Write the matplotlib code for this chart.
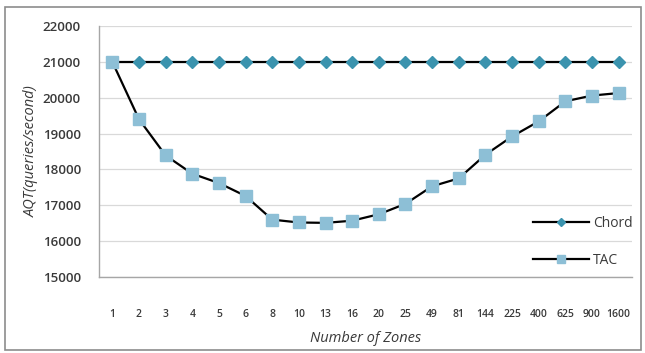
import matplotlib
matplotlib.use("Agg")
import matplotlib.pyplot as plt
import matplotlib.patches as mpatches

# x categories (number of zones) and AQT values
zones = ["1", "2", "3", "4", "5", "6", "8", "10", "13", "16", "20", "25",
         "49", "81", "144", "225", "400", "625", "900", "1600"]
chord = [21000] * len(zones)
tac = [21000, 19400, 18390, 17880, 17620, 17260, 16600, 16520, 16510,
       16570, 16750, 17040, 17530, 17750, 18410, 18920, 19340, 19900,
       20060, 20130]

yticks = [15000, 16000, 17000, 18000, 19000, 20000, 21000, 22000]

plt.rcParams["font.family"] = ["Open Sans", "DejaVu Sans"]

fig = plt.figure(figsize=(6.45, 3.53), dpi=100)
ax = fig.add_axes([99 / 645, 1 - 277 / 353, 533 / 645, 251 / 353])

x = list(range(len(zones)))
ax.plot(x, chord, color="black", lw=1.6, marker="D", ms=6.5,
        mfc="#3b93ae", mec="#3b93ae", label="Chord", zorder=3)
ax.plot(x, tac, color="black", lw=1.6, marker="s", ms=8,
        mfc="#8dbfd6", mec="#8dbfd6", label="TAC", zorder=3)

ax.set_xlim(-0.5, len(zones) - 0.5)
ax.set_ylim(15000, 22000)
ax.set_yticks(yticks)
ax.set_yticklabels([str(v) for v in yticks], fontsize=9.5, color="#3a3a3a",
                   fontweight="semibold")
ax.set_xticks(x)
ax.set_xticklabels(zones, fontsize=7.5, color="#3a3a3a", fontweight="semibold")
ax.tick_params(axis="x", length=0, pad=23)
ax.tick_params(axis="y", length=0, pad=13)
ax.grid(axis="y", color="#d9d9d9", lw=0.9, zorder=0)

for s in ["top", "right"]:
    ax.spines[s].set_visible(False)
for s in ["left", "bottom"]:
    ax.spines[s].set_color("#a6a6a6")
    ax.spines[s].set_linewidth(1.0)

ax.set_ylabel("AQT(queries/second)", fontsize=10.5, style="italic",
              color="#3a3a3a", labelpad=3)
ax.set_xlabel("Number of Zones", fontsize=10.5, style="italic",
              color="#3a3a3a", labelpad=8)

ax.legend(loc="lower right", bbox_to_anchor=(1.025, -0.015), frameon=False,
          fontsize=10, handlelength=4.0, labelspacing=1.6, markerscale=0.7,
          handletextpad=0.3, labelcolor="#3a3a3a")

# outer chart frame
fig.patches.append(mpatches.Rectangle((5 / 645, 3 / 353), 636 / 645, 343 / 353,
                                      transform=fig.transFigure, fill=False,
                                      edgecolor="#8c8c8c", lw=1.2))

fig.savefig("out.png", dpi=100)
